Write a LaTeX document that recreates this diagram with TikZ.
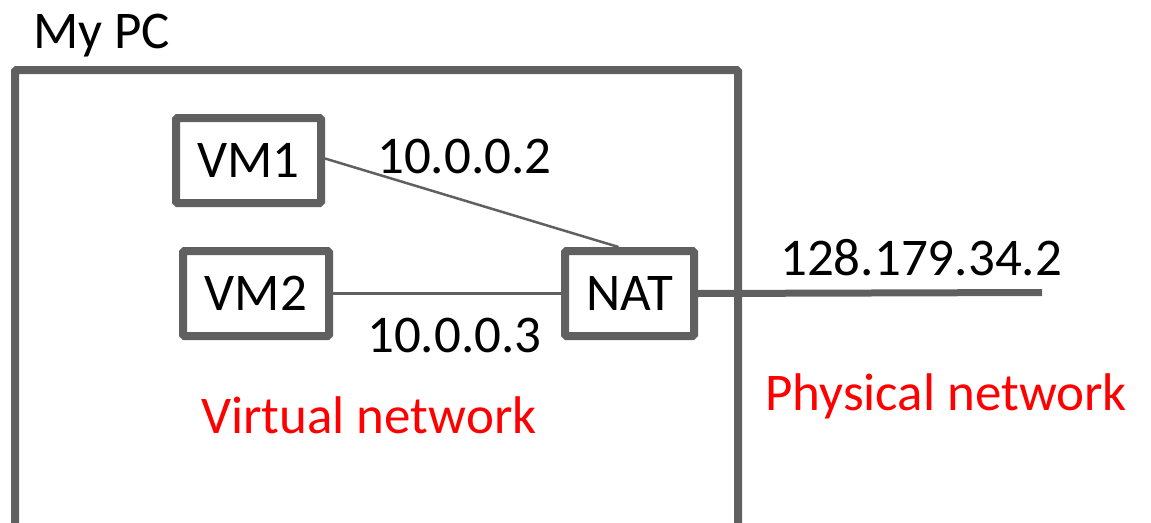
\documentclass[tikz,border=0pt]{standalone}
\usepackage{fontspec}
\setmainfont{Carlito}
\definecolor{linegray}{RGB}{96,96,96}
\definecolor{labelred}{RGB}{255,0,0}
\begin{document}
\begin{tikzpicture}[x=1pt,y=-1pt,
  every node/.style={font=\fontsize{53}{60}\selectfont},
  box/.style={draw=linegray,line width=8pt,fill=white,rectangle,rounded corners=1.5pt,inner sep=0pt,minimum height=85pt},
  lbl/.style={anchor=base west,inner sep=0pt,text=black},
  redlbl/.style={anchor=base west,inner sep=0pt,text=labelred},
  thin/.style={draw=linegray,line width=2.5pt},
  thick/.style={draw=linegray,line width=7pt}]
\useasboundingbox (0,0) rectangle (1151,522);
\clip (0,0) rectangle (1151,522);
% outer PC box
\draw[linegray,line width=8pt,rounded corners=1.5pt] (15,540) -- (15,70) -- (738,70) -- (738,540);
% nodes
\node[box,minimum width=145pt] (VM1) at (248.5,160.5) {VM1};
\node[box,minimum width=146pt] (VM2) at (256,293.5) {VM2};
\node[box,minimum width=129pt] (NAT) at (629.5,293.5) {NAT};
\coordinate (ext) at (1042,292.5);
% connectors
\draw[thin] ([yshift=2pt]VM1.east) -- ([xshift=-11pt]NAT.north);
\draw[thin] (VM2.east) -- (NAT.west);
\draw[thick] (NAT.east) -- (ext);
% labels
\node[lbl] (mypc) at (33,48) {My PC};
\node[lbl] (ip2) at (377,173) {10.0.0.2};
\node[lbl] (ip3) at (367,352) {10.0.0.3};
\node[lbl] (ipext) at (780,275) {128.179.34.2};
\node[redlbl] (virt) at (201,433) {Virtual network};
\node[redlbl] (phys) at (765,410) {Physical network};
\end{tikzpicture}
\end{document}
